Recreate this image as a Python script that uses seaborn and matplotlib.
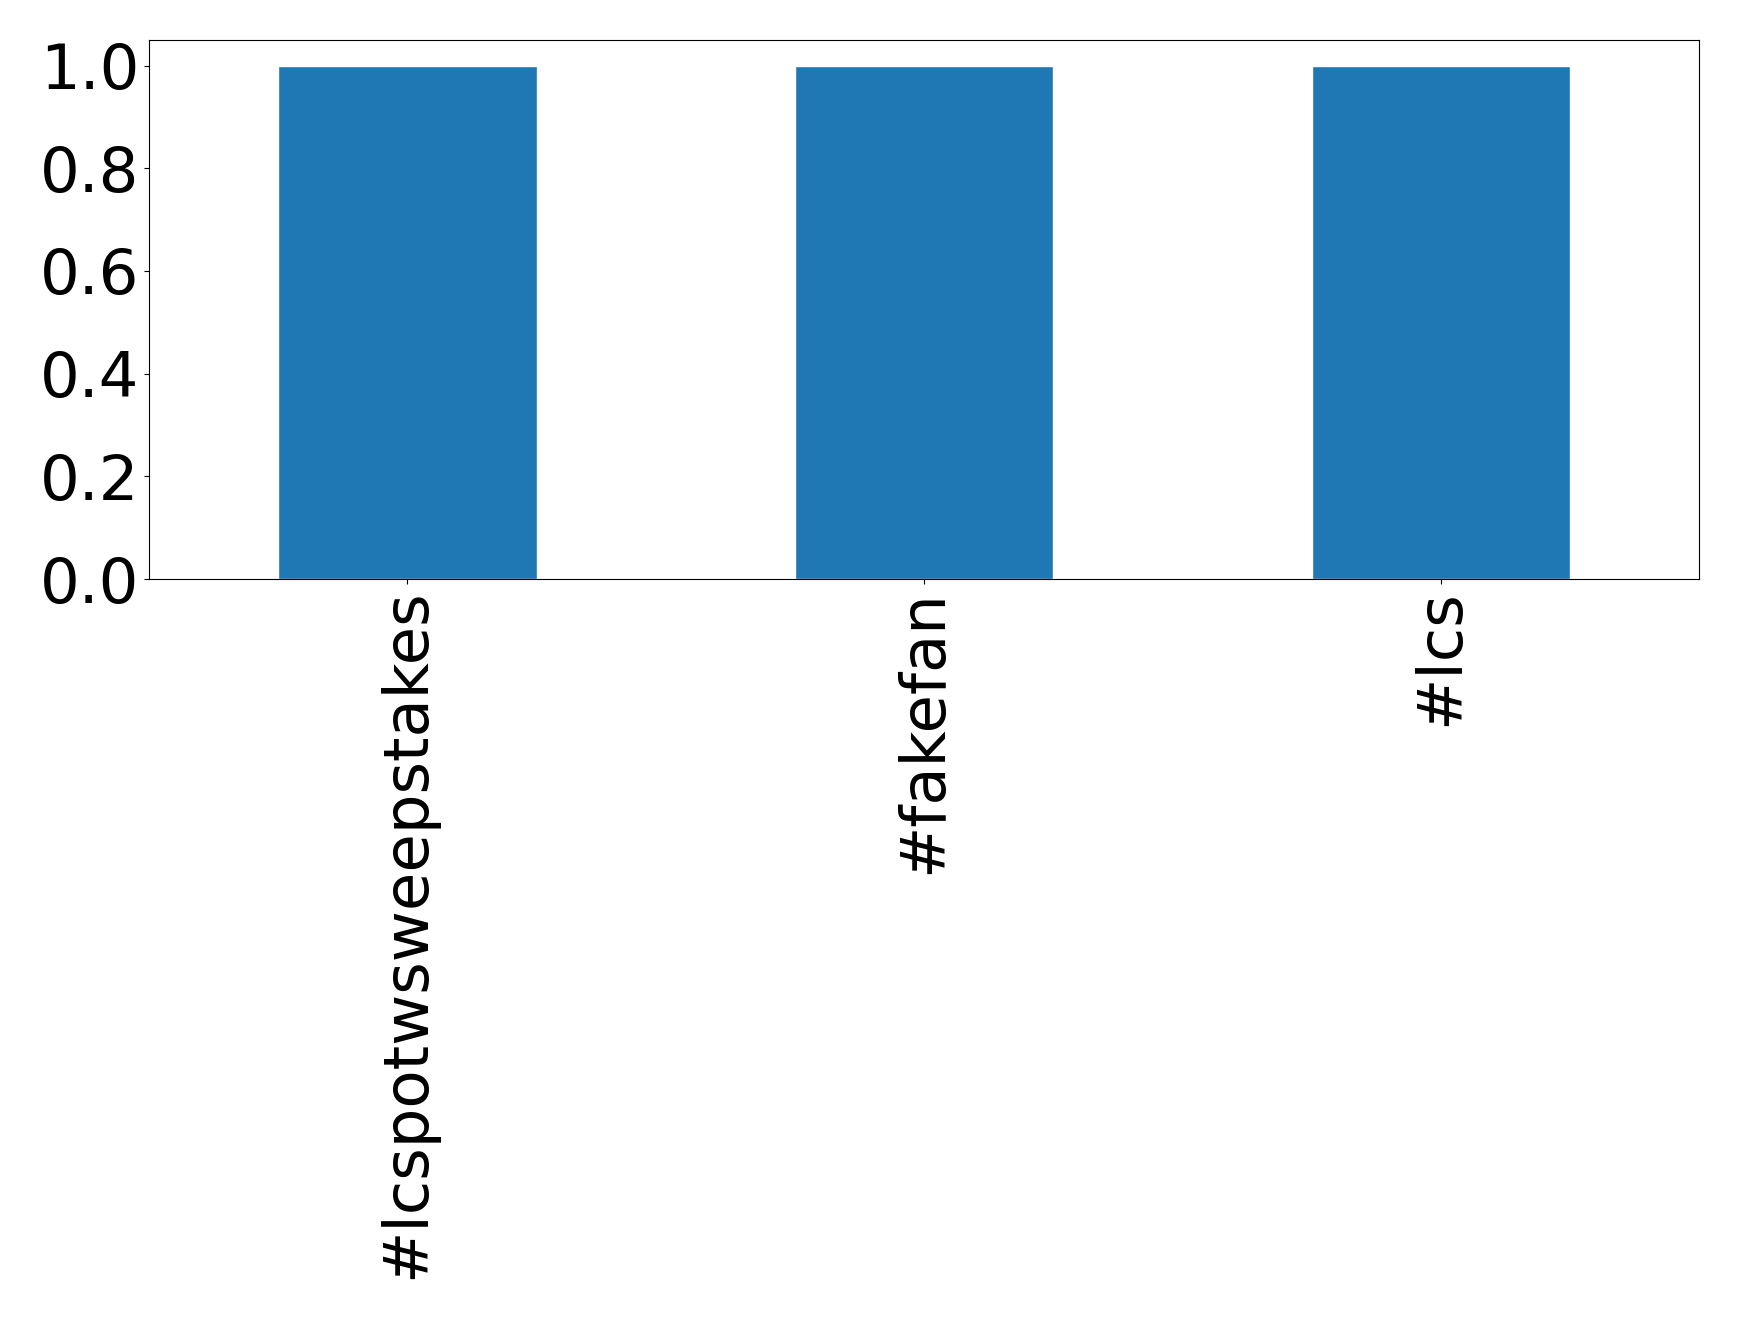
import matplotlib
matplotlib.use("Agg")
from matplotlib import pyplot as plt
import seaborn as sns

hashtags = ["#lcspotwsweepstakes", "#fakefan", "#lcs"]
counts = [1, 1, 1]

sns.set_style("ticks")
plt.rcParams["font.family"] = ["DejaVu Sans"]

fig, ax = plt.subplots(figsize=(17.39, 13.19), dpi=100)
sns.barplot(x=hashtags, y=counts, color="#1f77b4", saturation=1, width=0.5, ax=ax)

ax.set_xlim(-0.5, 2.5)
ax.set_ylim(0, 1.05)
ax.set_yticks([0.0, 0.2, 0.4, 0.6, 0.8, 1.0])
ax.set_yticklabels(["0.0", "0.2", "0.4", "0.6", "0.8", "1.0"])
ax.tick_params(axis="both", labelsize=45, colors="black")
ax.tick_params(axis="x", rotation=90)
for s in ax.spines.values():
    s.set_visible(True)
    s.set_linewidth(0.8)
    s.set_color("black")

fig.subplots_adjust(left=0.0857, right=0.977, top=0.9697, bottom=0.561)
fig.savefig("out.png", dpi=100)
